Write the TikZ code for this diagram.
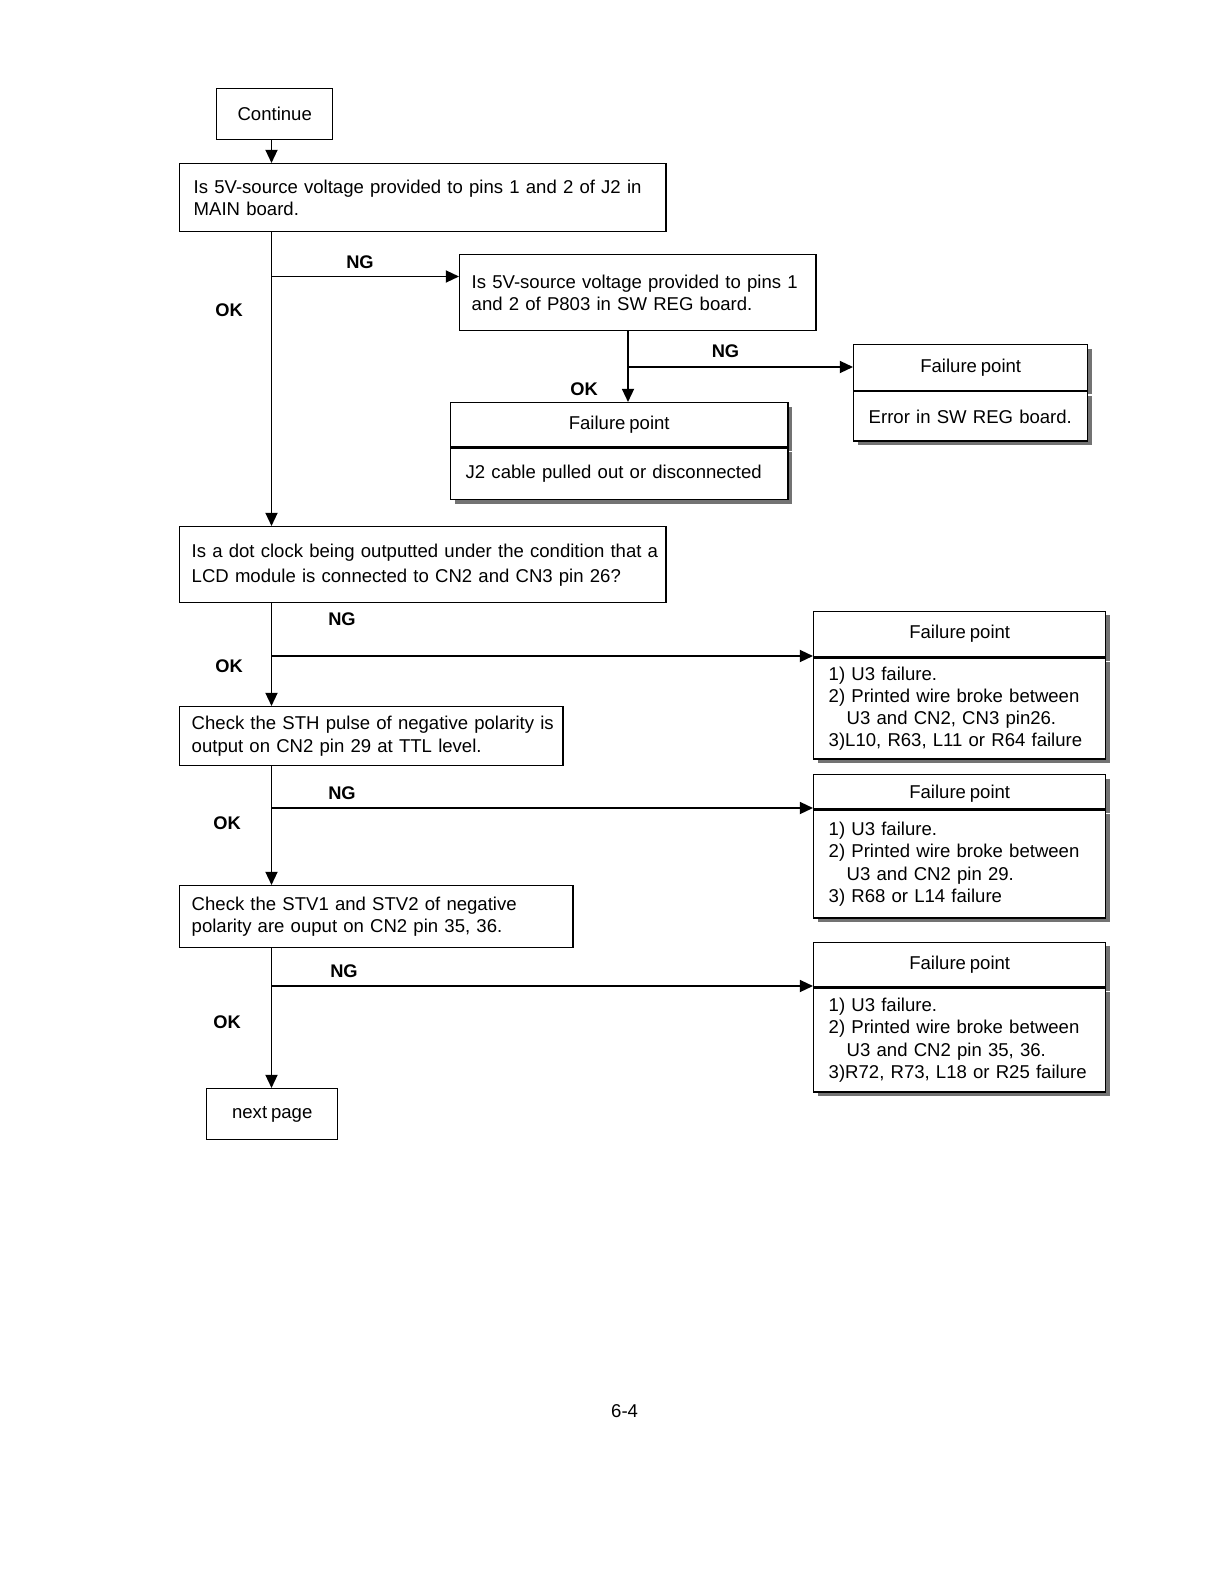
\documentclass[tikz,border=0pt]{standalone}
\usepackage{fontspec}
\setmainfont{Liberation Sans}[WordSpace=0.75]
\usepackage{tikz}
\usetikzlibrary{positioning, shapes, arrows.meta, calc, shadows}

\begin{document}
\begin{tikzpicture}[x=0.025cm, y=-0.025cm,
        font=\fontsize{13.2pt}{15.8pt}\selectfont,
        box/.style={rectangle, draw, line width=1pt, fill=white, anchor=north west, inner xsep=0.3cm, inner ysep=0pt},
        askbox/.style={box, align=left},
        shade/.style={drop shadow={shadow xshift=0.1cm, shadow yshift=-0.1cm, fill=black!55, opacity=1}},
        headbox/.style={box, shade, align=center},
        failbox/.style={box, shade, align=left, inner xsep=0.375cm},
        lbl/.style={font=\fontsize{13pt}{15pt}\selectfont\bfseries},
        arr/.style={-{Triangle[length=0.33cm, width=0.3cm]}, line width=1.3pt}]

        \useasboundingbox (0,0) rectangle (1219,1582);

        % question boxes
        \node[box, minimum width=2.9cm, minimum height=1.275cm] (cont) at (216,88) {Continue};
        \node[askbox, text width=11.55cm, minimum height=1.7cm] (q1) at (179,163)
            {\hspace*{0.05cm}\makebox[11.4cm][s]{Is 5V-source voltage provided to pins 1 and 2 of J2 in}\\\hspace*{0.05cm}MAIN board.};
        \node[askbox, text width=8.3cm, minimum height=1.9cm] (q2) at (459,254)
            {\mbox{Is 5V-source voltage provided to pins 1}\\and 2 of P803 in SW REG board.\\[0.45cm]};
        \node[askbox, text width=11.55cm, minimum height=1.9cm] (q3) at (179,526)
            {\mbox{Is a dot clock being outputted under the condition that a}\\[2pt]LCD module is connected to CN2 and CN3 pin 26?};
        \node[askbox, text width=8.975cm, minimum height=1.475cm] (q4) at (179,706)
            {\mbox{Check the STH pulse of negative polarity is}\\output on CN2 pin 29 at TTL level.};
        \node[askbox, text width=9.225cm, minimum height=1.5375cm] (q5) at (179,885)
            {Check the STV1 and STV2 of negative\\polarity are ouput on CN2 pin 35, 36.};
        \node[box, minimum width=3.275cm, minimum height=1.275cm] (next) at (206,1088) {next page};

        % failure points
        \node[headbox, minimum width=5.85cm, minimum height=1.1375cm] (fp0t) at (853,344) {Failure point};
        \node[failbox, text width=5.1cm, minimum height=1.2375cm] (fp0b) at (fp0t.south west) {Error in SW REG board.\\[0.2cm]};

        \node[headbox, minimum width=8.425cm, minimum height=1.1cm] (fpj2t) at (450,402) {Failure point};
        \node[failbox, text width=7.675cm, minimum height=1.2875cm] (fpj2b) at (fpj2t.south west) {J2 cable pulled out or disconnected};

        \node[headbox, minimum width=7.3cm, minimum height=1.1375cm] (fp1t) at (813,610.5) {Failure point};
        \node[failbox, text width=6.55cm, minimum height=2.525cm] (fp1b) at (fp1t.south west)
            {1) U3 failure.\\2) Printed wire broke between\\\hspace*{0.45cm}U3 and CN2, CN3 pin26.\\\mbox{3)L10, R63, L11 or R64 failure}};

        \node[headbox, minimum width=7.3cm, minimum height=0.85cm] (fp2t) at (813,774) {\\[-0.1cm]Failure point};
        \node[failbox, text width=6.55cm, minimum height=2.7cm] (fp2b) at (fp2t.south west)
            {1) U3 failure.\\2) Printed wire broke between\\\hspace*{0.45cm}U3 and CN2 pin 29.\\3) R68 or L14 failure\\[0.1cm]};

        \node[headbox, minimum width=7.3cm, minimum height=1.1125cm] (fp3t) at (813,941.5) {Failure point};
        \node[failbox, text width=6.55cm, minimum height=2.6cm] (fp3b) at (fp3t.south west)
            {1) U3 failure.\\2) Printed wire broke between\\\hspace*{0.45cm}U3 and CN2 pin 35, 36.\\\mbox{3)R72, R73, L18 or R25 failure}};

        % branch points
        \coordinate (b1) at (271.5,276.5);
        \coordinate (b2) at (628,367);
        \coordinate (b3) at (271.5,656);
        \coordinate (b4) at (271.5,808);
        \coordinate (b5) at (271.5,986);

        \draw[arr] (b1 |- cont.south) -- (b1 |- q1.north);
        \draw[arr] (b1 |- q1.south) -- (b1 |- q3.north);
        \draw[arr] (b1) -- (b1 -| q2.west);
        \draw[arr] (b2 |- q2.south) -- (b2 |- fpj2t.north);
        \draw[arr] (b2) -- (b2 -| fp0t.west);
        \draw[arr] (b3 |- q3.south) -- (b3 |- q4.north);
        \draw[arr] (b3) -- (b3 -| fp1t.west);
        \draw[arr] (b4 |- q4.south) -- (b4 |- q5.north);
        \draw[arr] (b4) -- (b4 -| fp2t.west);
        \draw[arr] (b5 |- q5.south) -- (b5 |- next.north);
        \draw[arr] (b5) -- (b5 -| fp3t.west);

        % OK / NG
        \node[lbl] (ng1) at (360,262) {NG};
        \node[lbl] (ok1) at (229,310) {OK};
        \node[lbl] (ng2) at (725.5,351) {NG};
        \node[lbl] (ok2) at (584,389.5) {OK};
        \node[lbl] (ng3) at (342,619.6) {NG};
        \node[lbl] (ok3) at (229,666) {OK};
        \node[lbl] (ng4) at (342,793) {NG};
        \node[lbl] (ok4) at (227,823) {OK};
        \node[lbl] (ng5) at (344,971) {NG};
        \node[lbl] (ok5) at (227,1022) {OK};

        \node (page) at (624.6,1410.7) {6-4};
      \end{tikzpicture}
\end{document}
